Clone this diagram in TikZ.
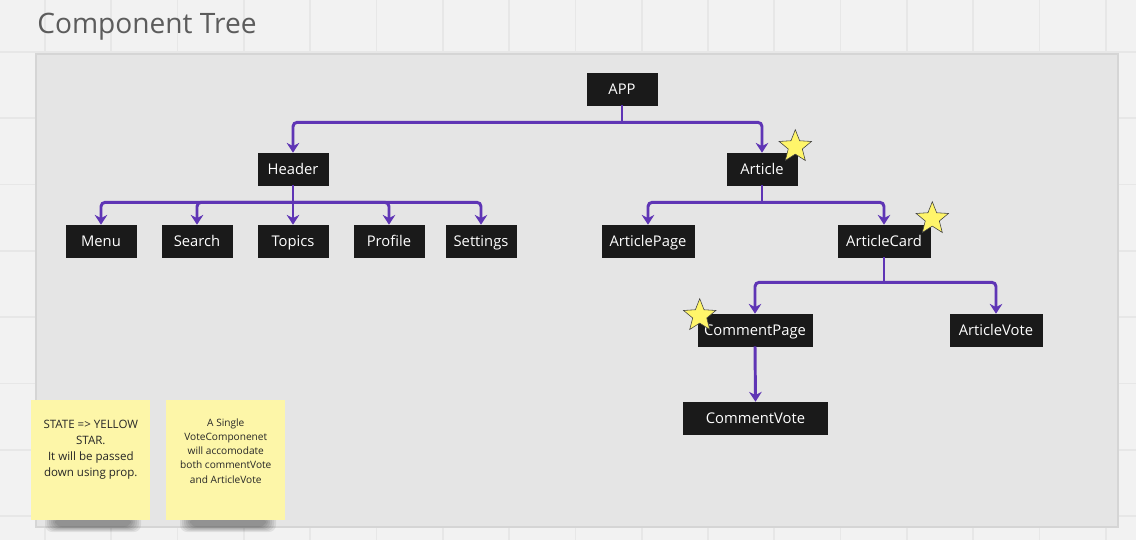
\documentclass[tikz,border=0pt]{standalone}
\usepackage{fontspec}
\setmainfont{Open Sans}
\usepackage{xcolor}
\definecolor{canvas}{HTML}{F2F2F2}
\definecolor{gridline}{HTML}{E7E7E7}
\definecolor{frame}{HTML}{E5E5E5}
\definecolor{frameline}{HTML}{D5D5D5}
\definecolor{boxfill}{HTML}{1A1A1A}
\definecolor{wire}{HTML}{5F35B5}
\definecolor{starfill}{HTML}{FFF56A}
\definecolor{notefill}{HTML}{FDF6A8}
\definecolor{titlegray}{HTML}{5C5C5C}
\usepackage{tikz}
\usetikzlibrary{shapes.geometric, arrows.meta, positioning}

\begin{document}
\begin{tikzpicture}[
      x=0.025cm, y=-0.025cm,
      comp/.style   = {draw=boxfill, fill=boxfill, text=white, minimum width=1.75cm,
                       minimum height=0.8cm, inner sep=2pt, text height=9.6pt, text depth=2.1pt,
                       font=\fontsize{10.5}{12}\selectfont},
      wire/.style   = {line width=2.1pt, color=wire, rounded corners=3pt},
      arrow/.style  = {wire, -{Stealth[length=7pt, width=9pt]}},
      state/.style  = {star, star points=5, star point ratio=2.3, minimum size=0.85cm,
                       inner sep=0pt, fill=starfill, draw=black!75, thin},
      note/.style   = {fill=notefill, minimum width=2.975cm, minimum height=3cm,
                       anchor=north west, inner sep=0pt},
      notetext/.style = {align=center, text=black!85, inner sep=0pt},
    ]

    % --- Sfondo e griglia ---
    \fill[canvas] (0,0) rectangle (1136,540);
    \useasboundingbox (0,0) rectangle (1136,540);
    \foreach \gx in {0,...,16}{
      \draw[gridline, line width=1.2pt] (45+66.3*\gx,0) -- (45+66.3*\gx,540);
    }
    \foreach \gy in {0,...,7}{
      \draw[gridline, line width=1.2pt] (0,52+66.3*\gy) -- (1136,52+66.3*\gy);
    }

    % --- Titolo ---
    \node[anchor=base west, inner sep=0pt, text=titlegray,
          font=\fontsize{20}{24}\selectfont] (title) at (37,33) {Component Tree};

    % --- Pannello ---
    \draw[frameline, fill=frame, line width=0.8pt] (36,54) rectangle (1118,527);

    % --- Componenti ---
    \node[comp] (app)     at (622, 89)  {APP};
    \node[comp] (header)  at (293,169)  {Header};
    \node[comp] (article) at (762,169)  {Article};

    \node[comp] (menu)     at (101,241) {Menu};
    \node[comp] (search)   at (197,241) {Search};
    \node[comp] (topics)   at (293,241) {Topics};
    \node[comp] (profile)  at (389,241) {Profile};
    \node[comp] (settings) at (481,241) {Settings};

    \node[comp, minimum width=2.3cm] (artpage) at (648,241) {ArticlePage};
    \node[comp, minimum width=2.3cm] (artcard) at (884,241) {ArticleCard};

    \node[comp, minimum width=2.85cm] (compage) at (755,330) {CommentPage};
    \node[comp, minimum width=2.3cm]  (artvote) at (996,330) {ArticleVote};
    \node[comp, minimum width=3.6cm]  (comvote) at (755.5,418) {CommentVote};

    % --- Collegamenti ---
    % APP
    \draw[wire] (app.south) -- ++(0,17) coordinate (appfork);
    \draw[arrow] (appfork) -| (header.north);
    \draw[arrow] (appfork) -| (article.north);
    % Header
    \draw[wire] (header.south) -- ++(0,17) coordinate (headfork);
    \foreach \c in {menu, search, topics, profile, settings}{
      \draw[arrow] (headfork) -| (\c.north);
    }
    % Article
    \draw[wire] (article.south) -- ++(0,17) coordinate (artfork);
    \draw[arrow] (artfork) -| (artpage.north);
    \draw[arrow] (artfork) -| (artcard.north);
    % ArticleCard
    \draw[wire] (artcard.south) -- ++(0,25) coordinate (cardfork);
    \draw[arrow] (cardfork) -| (compage.north);
    \draw[arrow] (cardfork) -| (artvote.north);
    % CommentPage
    \draw[arrow] (compage.south) -- (comvote.north);

    % --- Stelle (state) ---
    \node[state] (s1) at ([shift={(-2,-6)}]article.north east) {};
    \node[state] (s2) at ([shift={(2,-6)}]artcard.north east) {};
    \node[state] (s3) at ([shift={(2,2)}]compage.north west) {};

    % --- Note (con ombra) ---
    \foreach \nx in {31,166}{
      \foreach \k in {0,...,5}{
        \fill[black, opacity=0.07, rounded corners=5pt]
          (\nx+14+2*\k,512+\k) rectangle (\nx+110-2*\k,532-\k);
      }
    }

    \node[note] (note1) at (31,400) {};
    \node[note] (note2) at (166,400) {};
    \node[notetext, font=\fontsize{8.2}{11.4}\selectfont, below=0.5cm of note1.north]
      {STATE => YELLOW\\STAR.\\It will be passed\\down using prop.};
    \node[notetext, font=\fontsize{7.2}{10.1}\selectfont, below=0.46cm of note2.north]
      {A Single\\VoteComponenet\\will accomodate\\both commentVote\\and ArticleVote};

  \end{tikzpicture}
\end{document}
